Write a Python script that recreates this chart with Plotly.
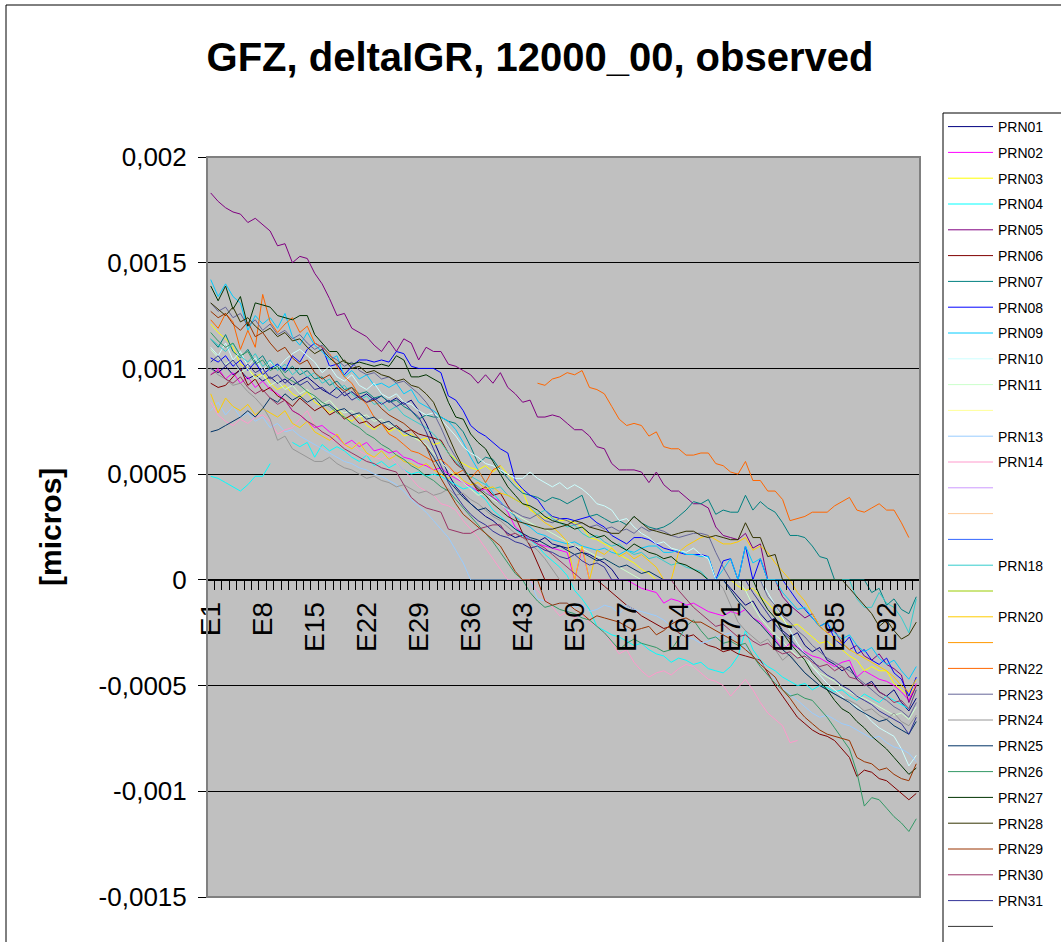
import plotly.graph_objects as go

# ---------------- data (values in 1e-5 micros) ----------------
CATEGORIES = [f"E{i}" for i in range(1, 97)]
LABEL_STEP = 7
Y_TICK_VALUES = [-0.0015, -0.001, -0.0005, 0, 0.0005, 0.001, 0.0015, 0.002]
Y_TICK_TEXT = ["-0,0015", "-0,001", "-0,0005", "0", "0,0005", "0,001", "0,0015", "0,002"]
SCALE = 1e-5
N = None

PRN01 = [100, 98, 101, 97, 99, 95, 97, 94, 96, 93, 95, 92,
         94, 96, 93, 90, 88, 91, 87, 89, 86, 88, 85, 87,
         84, 86, 83, 85, 80, 74, 66, 58, 50, 44, 40, 36,
         33, 30, 28, 25, 22, 20, 21, 19, 18, 20, 17, 16,
         15, 16, 13, 12, 10, 8, 5, 0, 0, 0, 0, 0,
         0, 0, 0, 0, 0, 0, 0, 0, 0, 0, -4, -8,
         -12, -10, -16, -20, -18, -24, -27, -25, -31, -34, -32, -38,
         -40, -43, -41, -47, -50, -48, -53, -55, -52, -58, -62, -56]
PRN02 = [97, 100, 95, 98, 93, 96, 91, 94, 90, 88, 85, 80,
         78, 75, 72, 73, 70, 68, 64, 66, 63, 65, 61, 62,
         60, 61, 58, 57, 55, 54, 52, 53, 50, 48, 46, 44,
         42, 43, 39, 37, 32, 25, 22, 19, 17, 16, 15, 14,
         13, 0, 15, 0, 0, 0, 0, 0, 0, -2, -4, -5,
         -6, -11, -9, -10, -12, -11, -13, -15, -16, -17, -15, -16,
         -14, -18, -20, -24, -28, -33, -30, -32, -34, -36, -37, -39,
         -41, -39, -38, -46, -43, -45, -47, -48, -50, -53, -57, -49]
PRN03 = [121, 117, 114, 110, 102, 100, 96, 98, 93, 90, 92, 88,
         86, 89, 84, 82, 79, 81, 77, 75, 78, 73, 71, 74,
         70, 72, 68, 69, 66, 67, 64, 65, 60, 57, 55, 53,
         52, 54, 51, 54, 50, 46, 42, 33, 31, 29, 30, 28,
         28, 27, 25, 20, 19, 17, 15, 12, 10, 8, 5, 3,
         0, 0, 0, 0, 0, 0, 0, 0, 0, 0, 0, -3,
         -5, -4, -8, -11, -15, -19, -22, -21, -24, -27, -30, -29,
         -32, -33, -36, -38, -43, -41, -43, -43, -49, -52, -55, -50]
PRN04 = [49, 48, 46, 44, 42, 45, 49, 49, 55, N, N, 65,
         63, 65, 58, 64, 61, 63, 61, 58, 56, 59, 54, 56,
         53, 55, 52, 50, 51, 49, 50, 49, 47, 45, 43, 44,
         41, 38, 33, 30, 27, 24, 21, 19, 16, 12, 9, 6,
         2, -5, -9, -14, -22, -24, -26, -27, -29, -31, -30, -33,
         -35, -36, -39, -37, -38, -40, -39, -42, -43, -44, -41, -36,
         -24, -33, -38, -41, -43, -46, -48, -50, -49, -52, -50, -51,
         -53, -52, -55, -57, -54, -56, -58, -55, -57, -59, -61, -52]
PRN05 = [183, 179, 176, 174, 173, 169, 171, 168, 165, 158, 159, 150,
         153, 152, 145, 140, 133, 125, 126, 119, 117, 115, 111, 108,
         113, 108, 114, 112, 104, 110, 108, 108, 102, 101, 99, 97,
         93, 97, 93, 98, 91, 88, 84, 85, 77, 77, 78, 77,
         74, 71, 71, 68, 63, 62, 55, 52, 52, 52, 51, 46,
         51, 45, 42, 42, 39, 36, 36, 34, 25, 21, 20, 19,
         22, 15, 17, 0, 0, -8, -12, -15, -18, -16, -22, -25,
         -24, -30, -33, -31, -36, -38, -35, -40, -42, -45, -58, -50]
PRN06 = [93, 91, 92, 96, 100, 92, 95, 89, 91, 87, 85, 82,
         86, 83, 80, 82, 78, 80, 76, 78, 74, 75, 72, 74,
         71, 73, 70, 71, 69, 68, 67, 66, 60, 55, 52, 47,
         42, 44, 40, 41, 35, 30, 22, 16, 8, 0, 0, 0,
         0, 0, 0, 0, 0, -3, -6, -9, -12, -14, -17, -19,
         -21, -23, -22, -25, -27, -26, -29, -31, -32, -34, -33, -35,
         -36, -37, -38, -44, -50, -55, -60, -65, -68, -71, -73, -74,
         -76, -80, -84, -93, -90, -91, -94, -95, -98, -101, -104, -101]
PRN07 = [114, 110, 116, 108, 105, 109, 103, 106, 100, 102, 98, 101,
         97, 99, 95, 96, 92, 94, 90, 91, 88, 89, 86, 87,
         84, 85, 82, 80, 76, 78, 77, 77, 75, 74, 70, 63,
         55, 58, 57, 52, 48, 44, 41, 40, 39, 37, 39, 38,
         36, 38, 40, 30, 31, 29, 27, 28, 26, 30, 27, 25,
         24, 25, 27, 30, 33, 37, 36, 38, 31, 33, 32, 32,
         40, 33, 37, 34, 32, 27, 21, 21, 20, 16, 11, 10,
         0, 0, 0, 0, 0, -6, -4, -12, -9, -14, -16, -8]
PRN08 = [105, 103, 106, 101, 104, 99, 103, 97, 100, 102, 99, 106,
         103, 109, 112, 110, 101, 102, 97, 101, 104, 104, 103, 104,
         103, 108, 107, 101, 100, 100, 100, 98, 87, 85, 80, 73,
         70, 68, 65, 62, 60, 47, 43, 40, 38, 33, 30, 29,
         29, 28, 29, 30, 27, 25, 21, 19, 17, 20, 20, 19,
         17, 15, 14, 13, 12, 12, 12, 11, 0, 9, 10, 0,
         16, 0, 10, 0, 0, 0, -5, -10, -14, -18, -22, -20,
         -28, -31, -27, -35, -33, -38, -40, -37, -44, -47, -55, -46]
PRN09 = [142, 134, 140, 134, 131, 118, 125, 121, 124, 119, 126, 115,
         111, 117, 111, 108, 104, 106, 96, 99, 95, 97, 92, 93,
         91, 93, 88, 90, 84, 82, 80, 77, 75, 71, 65, 58,
         52, 46, 41, 37, 33, 30, 27, 25, 22, 21, 19, 18,
         17, 18, 16, 15, 14, 15, 13, 12, 14, 13, 15, 16,
         16, 13, 13, 14, 12, 12, 11, 11, 0, 5, 10, 0,
         16, 8, 10, 0, 0, -6, -10, -14, -13, -18, -22, -20,
         -25, -28, -26, -31, -34, -32, -37, -40, -38, -43, -47, -41]
PRN10 = [110, 106, 112, 104, 108, 101, 105, 99, 103, 100, 104, 107,
         109, 106, 103, 98, 101, 96, 94, 97, 92, 90, 93, 88,
         86, 88, 84, 83, 80, 78, 79, 76, 72, 68, 63, 60,
         58, 55, 54, 52, 50, 48, 48, 51, 48, 46, 44, 46,
         43, 45, 43, 40, 36, 35, 33, 28, 29, 25, 22, 20,
         17, 18, 15, 14, 13, 15, 12, 10, 0, 0, 0, 0,
         0, 0, 0, -6, -12, -18, -24, -30, -35, -41, -45, -49,
         -52, -55, -58, -60, -63, -67, -70, -72, -74, -80, -88, -83]
PRN11 = [109, 105, 102, 104, 98, 100, 95, 97, 92, 94, 90, 92,
         88, 90, 86, 83, 85, 81, 79, 80, 77, 78, 75, 76,
         73, 72, 70, 68, 66, 64, 60, 56, 52, 49, 46, 43,
         40, 41, 38, 36, 33, 31, 29, 27, 25, 24, 22, 20,
         18, 16, 15, 13, 11, 10, 8, 6, 4, 2, 0, 0,
         0, 0, 0, 0, 0, 0, 0, 0, 0, 0, 0, 0,
         -5, -12, -18, -22, -26, -29, -33, -36, -38, -41, -44, -46,
         -48, -51, -53, -55, -56, -58, -60, -62, -64, -63, -66, -60]
PRN12 = []
PRN13 = [80, 84, 78, 82, 77, 79, 75, 77, 72, 74, 70, 71,
         68, 66, 64, 62, 60, 58, 56, 55, 53, 52, 50, 49,
         47, 45, 42, 38, 35, 32, 28, 24, 20, 14, 8, 0,
         0, 0, 0, 0, 0, 0, 0, 0, -9, -10, -12, -11,
         -11, -13, -12, -15, -14, -12, -13, -16, -12, -14, -15, -16,
         -17, -19, -22, -24, -27, -28, -30, -29, -27, -26, -25, -29,
         -32, -36, -39, -43, -47, -51, -54, -57, -60, -63, -65, -64,
         -66, -68, -69, -71, -73, -75, -74, -77, -79, -80, -82, -86]
PRN14 = [84, 78, 75, 73, 76, 74, 77, 78, 75, 69, 71, 72,
         76, 80, 73, 70, 67, 65, 63, 64, 61, 59, 58, 57,
         59, 55, 52, 48, 44, 42, 40, 36, 35, 33, 28, 24,
         20, 15, 10, 5, 0, 0, 0, 0, -5, -9, -13, -17,
         -15, -18, -16, -20, -22, -25, -30, -35, -33, -39, -43, -46,
         -44, -43, -45, -42, -40, -41, -44, -47, -48, -50, -55, -51,
         -47, -52, -58, -63, -66, -69, -77, -76, N, N, N, N,
         N, N, N, N, N, N, N, N, N, N, N, N]
PRN15 = []
PRN16 = []
PRN17 = []
PRN18 = [114, 111, 108, 112, 106, 103, 107, 101, 104, 99, 102, 97,
         100, 96, 98, 93, 95, 90, 92, 88, 85, 87, 83, 84,
         80, 82, 78, 76, 74, 72, 69, 65, 60, 56, 52, 49,
         47, 45, 43, 44, 40, 38, 36, 34, 31, 33, 29, 27,
         25, 26, 22, 20, 21, 18, 16, 17, 14, 12, 13, 10,
         11, 9, 7, 8, 6, 5, 4, 0, 0, 0, 0, 0,
         0, 0, 0, 0, 0, 0, 0, 0, 0, 0, 0, 0,
         0, 0, 0, -9, -13, -13, -6, -11, -13, -18, -25, -9]
PRN19 = []
PRN20 = [88, 79, 86, 82, 80, 83, 78, 81, 79, 77, 80, 74,
         72, 75, 70, 68, 66, 69, 64, 62, 65, 60, 58, 61,
         57, 59, 56, 55, 53, 55, 52, 50, 48, 51, 47, 45,
         46, 43, 44, 41, 40, 38, 36, 34, 30, 27, 25, 22,
         18, 0, 16, 0, 14, 12, 15, 11, 13, 10, 12, 9,
         6, 0, 0, 13, 16, 18, 20, 21, 19, 17, 17, 18,
         20, 14, 16, 13, 8, 4, 0, -6, -10, -16, -22, -25,
         -28, -30, -33, -35, -37, -39, -41, -43, -46, -50, -53, -47]
PRN21 = []
PRN22 = [123, 119, 126, 122, 109, 118, 110, 135, 122, 117, 121, 124,
         117, 120, 112, 110, 107, 101, 96, 93, 87, 83, 77, 74,
         69, 67, 64, 61, 60, 58, 56, 57, 54, 50, 52, 48,
         52, 46, 52, 54, N, N, N, N, 93, 92, 95, 96,
         98, 97, 99, 91, 90, 88, 82, 76, 73, 74, 73, 68,
         70, 63, 62, 62, 59, 59, 60, 60, 55, 54, 51, 50,
         56, 47, 47, 42, 42, 38, 28, 29, 30, 32, 32, 32,
         35, 37, 39, 33, 32, 34, 36, 33, 33, 27, 20, N]
PRN23 = [131, 127, 129, 124, 126, 120, 123, 118, 121, 116, 118, 114,
         116, 112, 109, 111, 106, 104, 101, 103, 99, 97, 98, 95,
         96, 93, 94, 91, 88, 84, 79, 72, 64, 58, 52, 47,
         44, 41, 39, 36, 34, 32, 30, 29, 31, 28, 27, 29,
         28, 26, 27, 25, 26, 24, 25, 23, 24, 22, 25, 23,
         24, 23, 21, 20, 21, 22, 22, 21, 13, 6, 0, 0,
         0, 0, 0, -8, -12, -17, -20, -24, -27, -31, -34, -37,
         -39, -41, -43, -46, -49, -52, -55, -57, -60, -62, -65, -58]
PRN24 = [100, 97, 95, 92, 93, 89, 86, 82, 76, 66, 68, 62,
         60, 58, 56, 56, 58, 55, 53, 52, 50, 48, 49, 47,
         46, 44, 45, 43, 41, 42, 40, 41, 43, 40, 41, 38,
         36, 33, 30, 28, 25, 22, 20, 17, 14, 10, 5, 0,
         0, 0, 0, 0, 0, 0, 0, 0, 0, 0, 0, 0,
         0, 0, 0, 0, 0, 0, 0, 0, 0, -4, -12, -20,
         -24, -27, -30, -28, -33, -38, -35, -40, -44, -47, -50, -52,
         -54, -56, -57, -59, -62, -61, -64, -66, -63, -67, -69, -64]
PRN25 = [70, 71, 73, 75, 77, 80, 77, 81, 86, 84, 88, 85,
         87, 84, 86, 82, 83, 80, 81, 78, 79, 76, 77, 74,
         75, 72, 70, 68, 67, 63, 58, 52, 47, 43, 39, 36,
         33, 34, 31, 29, 27, 24, 22, 20, 19, 17, 15, 16,
         14, 12, 13, 11, 9, 10, 8, 6, 7, 5, 3, 4,
         2, 0, 0, 0, 0, 0, 0, 0, 0, 0, -5, -10,
         -14, -18, -21, -25, -29, -33, -36, -40, -44, -47, -50, -52,
         -54, -56, -58, -61, -63, -65, -67, -66, -69, -71, -73, -67]
PRN26 = [117, 113, 110, 112, 106, 108, 102, 104, 99, 101, 96, 94,
         92, 89, 87, 84, 82, 79, 77, 74, 72, 69, 67, 64,
         62, 59, 57, 54, 52, 49, 47, 44, 42, 38, 34, 30,
         26, 22, 18, 13, 8, 3, 0, -6, -10, -13, -12, -14,
         -15, -16, -18, -19, -22, -25, -29, -33, -30, -28, -30, -31,
         -32, -34, -33, -28, -22, -19, -24, -28, -27, -30, -29, -31,
         -30, -36, -41, -45, -49, -52, -55, -54, -56, -57, -61, -65,
         -70, -75, -80, -91, -107, -103, -104, -108, -112, -115, -119, -113]
PRN27 = [139, 132, 139, 128, 134, 120, 131, 130, 129, 125, 124, 123,
         125, 125, 116, 112, 108, 108, 103, 102, 103, 102, 101, 102,
         101, 106, 104, 96, 96, 97, 95, 93, 84, 77, 76, 69,
         65, 62, 56, 50, 44, 40, 36, 35, 33, 30, 28, 27,
         26, 24, 25, 22, 20, 21, 18, 16, 14, 17, 15, 13,
         12, 10, 11, 8, 7, 5, 3, 0, 0, 0, 0, 0,
         0, 0, -8, -14, -18, -25, -30, -34, -38, -44, -48, -52,
         -57, -61, -63, -67, -70, -74, -77, -80, -84, -88, -92, -89]
PRN28 = [131, 128, 125, 129, 122, 124, 120, 117, 119, 115, 117, 113,
         114, 110, 107, 109, 105, 102, 104, 100, 101, 98, 99, 97,
         96, 94, 95, 92, 91, 88, 84, 76, 68, 60, 53, 47,
         43, 40, 36, 33, 30, 28, 27, 26, 25, 24, 24, 25,
         26, 28, 27, 25, 24, 23, 22, 22, 26, 30, 27, 24,
         23, 22, 21, 22, 23, 23, 21, 20, 21, 20, 19, 19,
         27, 20, 20, 11, 12, 0, 0, 0, 0, 0, 0, 0,
         0, 0, -4, -8, -12, -16, -22, -19, -24, -28, -26, -20]
PRN29 = [127, 124, 126, 121, 118, 122, 115, 117, 112, 108, 110, 105,
         102, 104, 98, 95, 97, 92, 89, 91, 86, 84, 85, 81,
         78, 76, 74, 71, 67, 63, 55, 48, 42, 36, 31, 28,
         25, 22, 19, 16, 10, 4, 0, 0, 0, -10, -12, -11,
         -11, -14, -16, -19, -17, -18, -19, -20, -22, -24, -23, -22,
         -26, -24, -21, -19, -18, -20, -20, -22, -24, -26, -28, -30,
         -33, -36, -40, -43, -46, -52, -56, -61, -65, -68, -71, -73,
         -74, -75, -76, -84, -86, -87, -90, -89, -92, -94, -95, -87]
PRN30 = [97, 99, 95, 93, 96, 91, 88, 90, 86, 83, 85, 80,
         78, 75, 73, 70, 68, 65, 62, 60, 58, 56, 55, 53,
         52, 51, 45, 39, 36, 34, 33, 32, 24, 23, 22, 22,
         24, 25, 26, 26, 21, 22, 20, 19, 17, 15, 12, 9,
         6, 3, 0, 0, 0, 0, 0, 0, 0, 0, 0, 0,
         0, 0, 0, -5, -9, -13, -16, -19, -22, -21, -24, -27,
         -26, -29, -31, -30, -33, -35, -34, -37, -36, -39, -41, -40,
         -43, -41, -46, -47, -50, -49, -53, -55, -58, -57, -61, -52]
PRN31 = [103, 106, 101, 104, 99, 102, 98, 100, 95, 97, 93, 96,
         92, 94, 90, 91, 88, 86, 89, 85, 87, 84, 86, 83,
         85, 82, 84, 80, 77, 70, 62, 54, 46, 40, 35, 31,
         28, 26, 23, 21, 20, 18, 17, 15, 16, 14, 13, 11,
         10, 12, 9, 7, 8, 6, 0, 0, 0, 0, 0, 0,
         0, 0, 0, 0, 0, 0, 0, 0, 0, 0, 0, 0,
         0, -6, -11, -16, -21, -25, -28, -32, -35, -38, -42, -45,
         -47, -50, -52, -55, -57, -59, -62, -64, -66, -68, -73, -65]
PRN32 = []

SERIES = [PRN01, PRN02, PRN03, PRN04, PRN05, PRN06, PRN07, PRN08, PRN09, PRN10,
          PRN11, PRN12, PRN13, PRN14, PRN15, PRN16, PRN17, PRN18, PRN19, PRN20,
          PRN21, PRN22, PRN23, PRN24, PRN25, PRN26, PRN27, PRN28, PRN29, PRN30,
          PRN31, PRN32]
LEGEND_LABELS = ["PRN01", "PRN02", "PRN03", "PRN04", "PRN05", "PRN06", "PRN07", "PRN08",
                 "PRN09", "PRN10", "PRN11", "", "PRN13", "PRN14", "", "", "", "PRN18", "",
                 "PRN20", "", "PRN22", "PRN23", "PRN24", "PRN25", "PRN26", "PRN27", "PRN28",
                 "PRN29", "PRN30", "PRN31", ""]
COLORS = ["#000080", "#FF00FF", "#FFFF00", "#00FFFF", "#800080", "#800000", "#008080",
          "#0000FF", "#00CCFF", "#CCFFFF", "#CCFFCC", "#FFFF99", "#99CCFF", "#FF99CC",
          "#CC99FF", "#FFCC99", "#3366FF", "#33CCCC", "#99CC00", "#FFCC00", "#FF9900",
          "#FF6600", "#666699", "#969696", "#003366", "#339966", "#003300", "#333300",
          "#993300", "#993366", "#333399", "#333333"]

# ---------------- figure ----------------
W, H = 1061, 942
L, R, T, B = 207, 920, 157, 897  # plot area in pixels
PW, PH = R - L, B - T
FONT = "Liberation Sans, Arial, sans-serif"


def px_x(x):
    return (x - L) / PW


def px_y(y):
    return (B - y) / PH


fig = go.Figure()
for k, (vals, label, color) in enumerate(zip(SERIES, LEGEND_LABELS, COLORS)):
    if vals:
        xs = CATEGORIES[:len(vals)]
        ys = [v * SCALE if v is not None else None for v in vals]
    else:  # series without data: keep its legend entry only
        xs, ys = CATEGORIES[:1], [None]
    fig.add_trace(go.Scatter(
        x=xs, y=ys, mode="lines", name=label if label else " ",
        legendgroup=f"g{k:02d}", line=dict(color=color, width=1),
        connectgaps=False, hoverinfo="skip"))

y_min, y_max = Y_TICK_VALUES[0], Y_TICK_VALUES[-1]
zero_pos = (0 - y_min) / (y_max - y_min)

tick_text = [c if i % LABEL_STEP == 0 else "" for i, c in enumerate(CATEGORIES)]

fig.update_layout(
    width=W, height=H,
    margin=dict(l=L, r=W - R, t=T, b=H - B, autoexpand=False),
    paper_bgcolor="white", plot_bgcolor="#C0C0C0",
    font=dict(family=FONT, color="black"),
    title=dict(text="<b>GFZ, deltaIGR, 12000_00, observed</b>",
               x=540 / W, xanchor="center", y=1 - 57 / H, yanchor="middle",
               font=dict(size=40, family=FONT, color="black")),
    showlegend=True,
    legend=dict(x=px_x(943), y=px_y(111), xanchor="left", yanchor="top",
                bgcolor="rgba(0,0,0,0)", borderwidth=0,
                font=dict(size=14, family=FONT, color="black"),
                tracegroupgap=4.6, traceorder="grouped", itemwidth=45,
                maxheight=1200),
    xaxis=dict(type="category", categoryorder="array", categoryarray=CATEGORIES,
               range=[-0.5, len(CATEGORIES) - 0.5],
               anchor="free", position=zero_pos,
               showline=True, linecolor="black", linewidth=1,
               tickmode="array", tickvals=CATEGORIES, ticktext=tick_text,
               ticks="outside", ticklen=9, tickcolor="black", tickwidth=1,
               tickson="boundaries", tickangle=-90, ticklabelstandoff=10,
               tickfont=dict(size=28, family=FONT, color="black"),
               showgrid=False, zeroline=False),
    yaxis=dict(range=[y_min, y_max], tickmode="array",
               tickvals=Y_TICK_VALUES, ticktext=Y_TICK_TEXT,
               ticks="outside", ticklen=8, tickcolor="black",
               showline=True, linecolor="black", linewidth=1,
               showgrid=True, gridcolor="black", gridwidth=1,
               zeroline=False, ticklabelstandoff=6,
               tickfont=dict(size=26, family=FONT, color="black")),
    annotations=[dict(text="<b>[micros]</b>", xref="paper", yref="paper",
                      x=px_x(50), y=0.5, xanchor="center", yanchor="middle",
                      showarrow=False, textangle=-90,
                      font=dict(size=30, family=FONT, color="black"))],
    shapes=[
        dict(type="rect", xref="paper", yref="paper", x0=0, x1=1, y0=0, y1=1,
             line=dict(color="#808080", width=2), layer="above"),
        # outer chart frame (runs off the right and bottom edges)
        dict(type="rect", xref="paper", yref="paper",
             x0=px_x(6), x1=px_x(W + 40), y0=px_y(H + 40), y1=px_y(5),
             line=dict(color="black", width=1), layer="below"),
        # legend box (runs off the right and bottom edges)
        dict(type="rect", xref="paper", yref="paper",
             x0=px_x(943), x1=px_x(W + 40), y0=px_y(H + 40), y1=px_y(113),
             line=dict(color="black", width=1), fillcolor="white", layer="above"),
    ],
)

fig.write_html("out.html", config={"displayModeBar": False},
               post_script="document.body.style.margin='0px';")
